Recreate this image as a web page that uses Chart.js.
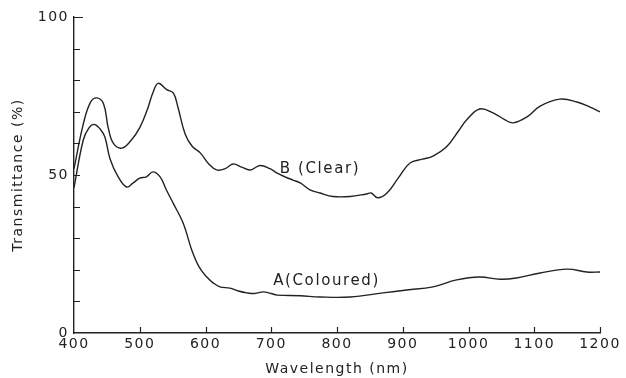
<!DOCTYPE html>
<html>
<head>
<meta charset="utf-8">
<script src="https://cdn.jsdelivr.net/npm/chart.js@4.4.0/dist/chart.umd.min.js"></script>
<style>
  html, body { margin: 0; padding: 0; background: #fff; }
  #wrap { width: 626px; height: 378px; }
</style>
</head>
<body>
<div id="wrap"><canvas id="grafico" width="626" height="378"></canvas></div>
<script>
// curva B (clear)
const comprimentoB = [400, 414, 425, 435, 445, 452, 460, 473, 487, 500, 512, 520, 528, 541, 551, 558, 569, 580, 592, 605, 617, 630, 642, 655, 668, 683, 698, 709, 720, 733, 744, 759, 774, 794, 820, 845, 852, 862, 876, 893, 911, 930, 946, 967, 985, 997, 1017, 1038, 1055, 1068, 1089, 1109, 1139, 1165, 1185, 1200];
const transB = [52, 66, 73, 74.4, 72.5, 65, 60, 58.5, 61, 65, 71, 76, 79, 77, 76, 71.5, 63, 59, 57, 53.5, 51.6, 52, 53.5, 52.5, 51.6, 53, 52, 50.6, 49.5, 48.4, 47.5, 45.3, 44.3, 43.2, 43.2, 44, 44.3, 42.8, 44.3, 49, 53.8, 55, 56, 59, 64, 67.4, 70.9, 69.6, 67.5, 66.5, 68.4, 71.8, 74, 73.1, 71.5, 70];

// curva A (coloured)
const comprimentoA = [400, 414, 423, 431, 440, 447, 455, 467, 480, 490, 500, 510, 520, 531, 540, 551, 566, 579, 590, 602, 612, 622, 637, 650, 663, 675, 688, 700, 709, 744, 774, 820, 870, 906, 946, 982, 1017, 1048, 1073, 1109, 1150, 1180, 1200];
const transA = [46, 61, 65, 66, 64.5, 62, 55, 49.5, 46.2, 47.5, 49, 49.4, 51, 49.4, 45.5, 41, 34.8, 26.3, 21, 17.7, 15.8, 14.6, 14.2, 13.3, 12.7, 12.5, 13, 12.5, 12, 11.8, 11.4, 11.4, 12.7, 13.6, 14.6, 16.8, 17.7, 17, 17.4, 19, 20.2, 19.3, 19.3];

const ticksY = [0, 50, 100];
const corTexto = '#222';
const fonte = '"DejaVu Sans", sans-serif';

const pontosB = comprimentoB.map((x, i) => ({ x: x, y: transB[i] }));
const pontosA = comprimentoA.map((x, i) => ({ x: x, y: transA[i] }));

// espaçamento entre letras, como no original
const espacamento = {
    id: 'espacamento',
    beforeInit(chart) { chart.ctx.letterSpacing = '1.5px'; },
    beforeDraw(chart) { chart.ctx.letterSpacing = '1.5px'; }
};

// ticks para dentro e rotulos das curvas
const marcasInternas = {
    id: 'marcasInternas',
    afterDraw(chart) {
        const ctx = chart.ctx;
        const sx = chart.scales.x;
        const sy = chart.scales.y;
        const area = chart.chartArea;
        ctx.save();
        ctx.strokeStyle = corTexto;
        ctx.lineWidth = 1.2;
        ctx.beginPath();
        for (let v = 500; v <= 1200; v += 100) {
            const px = Math.round(sx.getPixelForValue(v)) + 0.5;
            ctx.moveTo(px, area.bottom);
            ctx.lineTo(px, area.bottom - 6);
        }
        for (let v = 10; v <= 100; v += 10) {
            const py = Math.round(sy.getPixelForValue(v)) + 0.5;
            ctx.moveTo(area.left, py);
            ctx.lineTo(area.left + (v === 100 ? 9 : 6), py);
        }
        ctx.stroke();

        ctx.fillStyle = corTexto;
        ctx.font = '15px ' + fonte;
        ctx.letterSpacing = '1.6px';
        ctx.textBaseline = 'middle';
        ctx.fillText('B (Clear)', sx.getPixelForValue(713), sy.getPixelForValue(52));
        ctx.fillText('A(Coloured)', sx.getPixelForValue(703), sy.getPixelForValue(16.5));
        ctx.restore();
    }
};

const ctx = document.getElementById('grafico').getContext('2d');
window.chart = new Chart(ctx, {
    type: 'line',
    data: {
        datasets: [
            {
                label: 'B (Clear)',
                data: pontosB,
                borderColor: corTexto,
                borderWidth: 1.4,
                pointRadius: 0,
                tension: 0.4,
                fill: false,
            },
            {
                label: 'A (Coloured)',
                data: pontosA,
                borderColor: corTexto,
                borderWidth: 1.4,
                pointRadius: 0,
                tension: 0.4,
                fill: false,
            }
        ]
    },
    options: {
        responsive: false,
        animation: false,
        layout: { padding: { top: 17, right: 26, left: 10, bottom: 0 } },
        plugins: {
            legend: { display: false },
            tooltip: { enabled: false },
        },
        scales: {
            x: {
                type: 'linear',
                min: 400,
                max: 1200,
                afterFit: (scale) => { scale.height = 45; },
                grid: { display: false, drawTicks: false },
                border: { display: true, color: corTexto, width: 1.4 },
                ticks: {
                    stepSize: 100,
                    color: corTexto,
                    padding: 3,
                    maxRotation: 0,
                    callback: (v) => String(v),
                    font: { family: fonte, size: 14 },
                },
                title: {
                    display: true,
                    text: 'Wavelength (nm)',
                    color: corTexto,
                    padding: { top: 2, bottom: 0 },
                    font: { family: fonte, size: 14 },
                }
            },
            y: {
                min: 0,
                max: 100,
                afterFit: (scale) => { scale.width = 64; },
                grid: { display: false, drawTicks: false },
                border: { display: true, color: corTexto, width: 1.4 },
                afterBuildTicks: (scale) => { scale.ticks = ticksY.map(v => ({ value: v })); },
                ticks: {
                    color: corTexto,
                    padding: 5,
                    font: { family: fonte, size: 14 },
                },
                title: {
                    display: true,
                    text: 'Transmittance (%)',
                    color: corTexto,
                    padding: { top: 0, bottom: 4 },
                    font: { family: fonte, size: 14 },
                }
            }
        }
    },
    plugins: [espacamento, marcasInternas]
});
</script>
</body>
</html>
